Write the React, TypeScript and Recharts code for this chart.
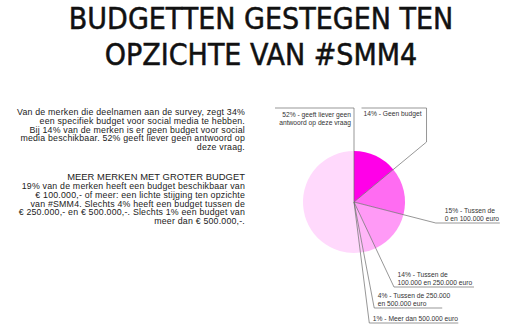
import { PieChart, Pie, Cell } from "recharts";

const categoryLines: string[][] = [
  ["Geen budget"],
  ["Tussen de", "0 en 100.000 euro"],
  ["Tussen de", "100.000 en 250.000 euro"],
  ["Tussen de 250.000", "en 500.000 euro"],
  ["Meer dan 500.000 euro"],
  ["geeft liever geen", "antwoord op deze vraag"],
];
const shares = [14, 15, 14, 4, 1, 52];
const sliceColors = ["#ff00e8", "#ff6cf2", "#ff9af6", "#ffb6f8", "#ffc8fa", "#ffd9fc"];

const titleLines = ["BUDGETTEN GESTEGEN TEN", "OPZICHTE VAN #SMM4"];
const introLines = [
  "Van de merken die deelnamen aan de survey, zegt 34%",
  "een specifiek budget voor social media te hebben.",
  "Bij 14% van de merken is er geen budget voor social",
  "media beschikbaar. 52% geeft liever geen antwoord op",
  "deze vraag.",
];
const subHeading = "MEER MERKEN MET GROTER BUDGET";
const bodyLines = [
  "19% van de merken heeft een budget beschikbaar van",
  "€ 100.000,- of meer: een lichte stijging ten opzichte",
  "van #SMM4. Slechts 4% heeft een budget tussen de",
  "€ 250.000,- en € 500.000,-. Slechts 1% een budget van",
  "meer dan € 500.000,-.",
];

const data = shares.map((v, i) => ({ name: categoryLines[i].join(" "), value: v }));

// where each leader line bends: dy below/above centre, underline length, direction
const leaderLayout = [
  { dy: -60, up: -94, len: 65, side: "left-up" },
  { dy: 21, len: 64, side: "right" },
  { dy: 85, len: 80, side: "right" },
  { dy: 106, len: 68, side: "right" },
  { dy: 121, len: 89, side: "right" },
  { dy: -94, len: 79, side: "left" },
];

const RAD = Math.PI / 180;
const labelFont = "'Liberation Sans', Arial, sans-serif";

function LeaderLabel(props: any) {
  const { cx, cy, endAngle, index, value } = props;
  const lay = leaderLayout[index];
  const lines = categoryLines[index].slice();
  lines[0] = `${value}% - ${lines[0]}`;
  // recharts angle: counter-clockwise from 3 o'clock, y = cy - r*sin
  const s = Math.sin(endAngle * RAD);
  const c = Math.cos(endAngle * RAD);
  const ex = Math.abs(s) < 1e-6 ? cx : cx - (lay.dy * c) / s;
  const ey = cy + lay.dy;
  const stroke = "#6a6a6a";
  const txt = { fontFamily: labelFont, fontSize: 6.7, fill: "#333" } as const;

  if (lay.side === "left-up") {
    const ty = cy + (lay.up as number);
    return (
      <g>
        <polyline
          points={`${cx},${cy} ${ex},${ey} ${ex},${ty} ${ex - lay.len},${ty}`}
          fill="none"
          stroke={stroke}
          strokeWidth={0.7}
        />
        <text x={ex - lay.len + 2} y={ty + 8} {...txt}>
          {lines[0]}
        </text>
      </g>
    );
  }
  if (lay.side === "left") {
    return (
      <g>
        <polyline
          points={`${ex},${cy} ${ex},${ey} ${ex - lay.len},${ey}`}
          fill="none"
          stroke={stroke}
          strokeWidth={0.7}
        />
        {lines.map((l, i) => (
          <text key={i} x={ex - 3} y={ey + 8.5 + i * 8.8} textAnchor="end" {...txt}>
            {l}
          </text>
        ))}
      </g>
    );
  }
  const n = lines.length;
  return (
    <g>
      <polyline
        points={`${cx},${cy} ${ex},${ey} ${ex + lay.len},${ey}`}
        fill="none"
        stroke={stroke}
        strokeWidth={0.7}
      />
      {lines.map((l, i) => (
        <text key={i} x={ex + (index === 1 ? 9 : 3.5)} y={ey - 2 - (n - 1 - i) * 7.8} {...txt}>
          {l}
        </text>
      ))}
    </g>
  );
}

export default function App() {
  const bodyFont = "'Liberation Sans', Arial, sans-serif";
  return (
    <div
      style={{
        position: "absolute",
        left: 0,
        top: 0,
        width: 510,
        height: 328,
        background: "#fff",
        overflow: "hidden",
      }}
    >
      <div
        style={{
          position: "absolute",
          left: 0,
          top: 1,
          width: 522,
          textAlign: "center",
          fontFamily: "'Liberation Sans Narrow', 'DejaVu Sans Condensed', sans-serif",
          fontSize: 30,
          lineHeight: "36px",
          color: "#111",
          WebkitTextStroke: "0.5px #111",
        }}
      >
        {titleLines.map((t) => (
          <div key={t}>{t}</div>
        ))}
      </div>

      <div
        style={{
          position: "absolute",
          right: 510 - 245,
          top: 108,
          width: 240,
          textAlign: "right",
          fontFamily: bodyFont,
          fontSize: 8.8,
          letterSpacing: 0.2,
          lineHeight: "8.8px",
          color: "#222",
          whiteSpace: "nowrap",
        }}
      >
        {introLines.map((t) => (
          <div key={t}>{t}</div>
        ))}
        <div style={{ fontSize: 9.4, letterSpacing: 0.05, lineHeight: "10px", marginTop: 20 }}>
          {subHeading}
        </div>
        {bodyLines.map((t) => (
          <div key={t}>{t}</div>
        ))}
      </div>

      <div style={{ position: "absolute", left: 0, top: 0 }}>
        <PieChart width={510} height={328} margin={{ top: 0, right: 0, bottom: 0, left: 0 }}>
          <Pie
            data={data}
            dataKey="value"
            cx={354}
            cy={202}
            outerRadius={51}
            startAngle={90}
            endAngle={-270}
            stroke="none"
            label={LeaderLabel}
            labelLine={false}
            isAnimationActive={false}
          >
            {data.map((d, i) => (
              <Cell key={d.name} fill={sliceColors[i]} />
            ))}
          </Pie>
        </PieChart>
      </div>
    </div>
  );
}
